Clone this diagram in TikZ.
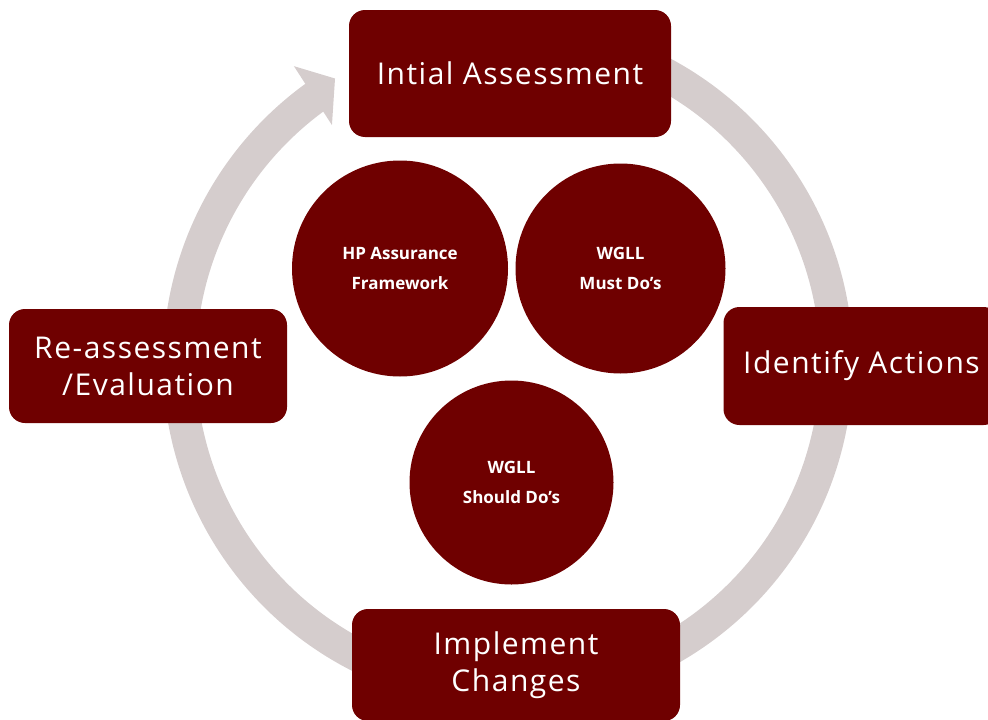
\documentclass[tikz,border=0pt]{standalone}
\usepackage{fontspec}
\setmainfont{Open Sans}[LetterSpace=5]
\newfontfamily\circfont{Open Sans}
\definecolor{boxred}{RGB}{111,0,0}
\definecolor{ringgray}{RGB}{213,205,205}
\begin{document}
\begin{tikzpicture}[x=1pt,y=-1pt,
  stage/.style={fill=boxred, rounded corners=16pt, text=white, font=\fontsize{30}{37}\selectfont, align=center, inner sep=0pt},
  topic/.style={circle, fill=boxred, text=white, font=\circfont\bfseries\fontsize{17}{30}\selectfont, align=center, inner sep=0pt}]
\useasboundingbox (0,0) rectangle (988,720);
\coordinate (c) at (508,363);
\draw[ringgray, line width=33pt] ([shift={(-80:328.5)}]c) arc[start angle=-80, end angle=234.2, radius=328.5];
\fill[ringgray] ([shift={(234.2:366)}]c) -- ([shift={(238.7:333)}]c) -- ([shift={(233.5:296)}]c) -- cycle;
\node[stage, minimum width=322pt, minimum height=127pt] (init) at (510,73.5) {Intial Assessment};
\node[stage, minimum width=276pt, minimum height=118pt] (ident) at (861.5,366) {Identify Actions};
\node[stage, minimum width=328pt, minimum height=112pt] (impl) at (516,665) {Implement\\Changes};
\node[stage, minimum width=278pt, minimum height=114pt] (reas) at (148,366) {Re-assessment\\/Evaluation};
\node[topic, minimum size=216pt] (hp) at (400,268.5) {HP Assurance\\Framework};
\node[topic, minimum size=210pt] (must) at (620.5,268.5) {WGLL\\Must Do’s};
\node[topic, minimum size=204pt] (should) at (511.5,482.5) {WGLL\\Should Do’s};
\end{tikzpicture}
\end{document}
